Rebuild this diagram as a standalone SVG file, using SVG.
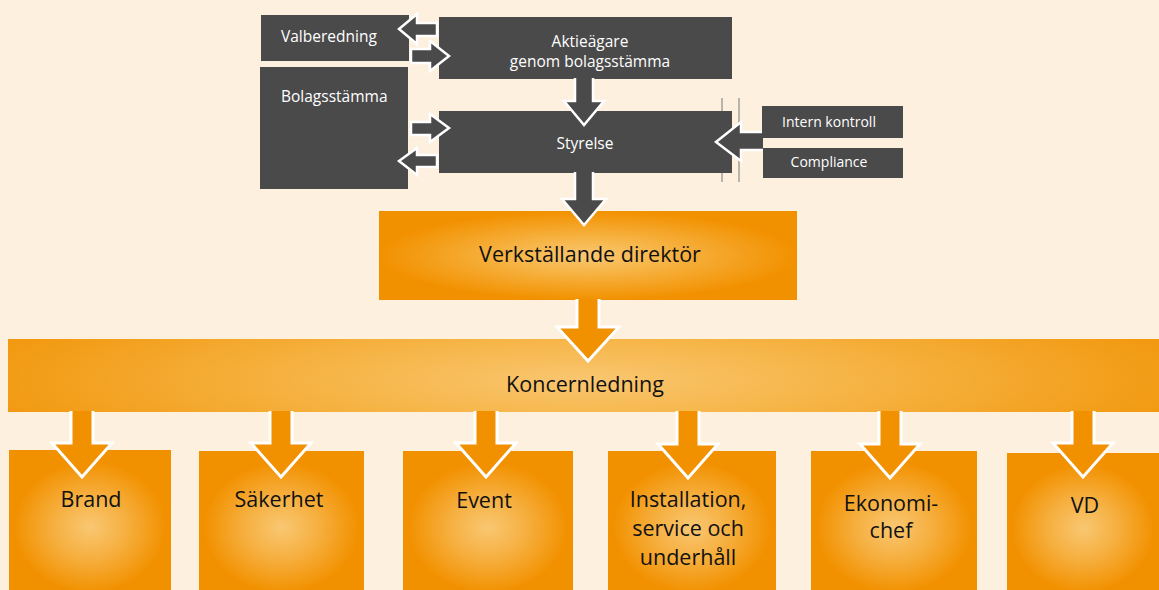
<svg xmlns="http://www.w3.org/2000/svg" width="1159" height="590" viewBox="0 0 1159 590">
<style>
.bg{fill:#fdf0df}
.dk{fill:#4a4a4a}
.wt{font-family:"Open Sans","Liberation Sans",sans-serif;font-size:15.5px;fill:#ffffff}
.wts{font-family:"Open Sans","Liberation Sans",sans-serif;font-size:14px;fill:#ffffff}
.bt{font-family:"Open Sans","Liberation Sans",sans-serif;font-size:21.5px;fill:#111111}
.da{fill:#4a4a4a;stroke:#ffffff;stroke-width:2.5;stroke-linejoin:miter}
.oa{fill:#f29100;stroke:#ffffff;stroke-width:3;stroke-linejoin:miter}
.mk{stroke:#8a8a8a;stroke-width:1.2}
</style>
<defs>
<radialGradient id="gOr" cx="0.5" cy="0.5" r="0.5">
<stop offset="0" stop-color="#f9c772"/>
<stop offset="0.35" stop-color="#f7b649"/>
<stop offset="1" stop-color="#f29100"/>
</radialGradient>
<radialGradient id="gBox" cx="0.5" cy="0.55" r="0.55">
<stop offset="0" stop-color="#f9c772"/>
<stop offset="0.4" stop-color="#f6b041"/>
<stop offset="0.85" stop-color="#f29100"/>
<stop offset="1" stop-color="#f29100"/>
</radialGradient>
<radialGradient id="gBar" gradientUnits="userSpaceOnUse" cx="585" cy="380" r="600" gradientTransform="translate(0,380) scale(1,0.16) translate(0,-380)">
<stop offset="0" stop-color="#f9c670"/>
<stop offset="0.45" stop-color="#f6b445"/>
<stop offset="1" stop-color="#f29a12"/>
</radialGradient>
</defs>
<rect class="bg" x="0" y="0" width="1159" height="590"/>
<g id="marks">
<line class="mk" x1="722" y1="98" x2="722" y2="182"/>
<line class="mk" x1="739" y1="98" x2="739" y2="182"/>
</g>
<g id="valberedning"><rect class="dk" x="261" y="15" width="148" height="46"/><text class="wt" x="281" y="42">Valberedning</text></g>
<g id="bolagsstamma"><rect class="dk" x="260" y="67" width="148" height="122"/><text class="wt" x="281" y="102">Bolagsstämma</text></g>
<g id="aktieagare"><rect class="dk" x="439" y="17" width="293" height="62"/><text class="wt" text-anchor="middle" x="590" y="47">Aktieägare</text><text class="wt" text-anchor="middle" x="590" y="67">genom bolagsstämma</text></g>
<g id="styrelse"><rect class="dk" x="439" y="111" width="293" height="62"/><text class="wt" text-anchor="middle" x="585" y="149">Styrelse</text></g>
<g id="vd-main"><rect x="379" y="211" width="418" height="89" fill="url(#gOr)"/><text class="bt" text-anchor="middle" x="590" y="262">Verkställande direktör</text></g>
<g id="koncernledning"><rect x="8" y="339" width="1151" height="73" fill="url(#gBar)"/><text class="bt" text-anchor="middle" x="585" y="392">Koncernledning</text></g>
<g id="brand"><rect x="9" y="450" width="162" height="140" fill="url(#gBox)"/><text class="bt" text-anchor="middle" x="91" y="507">Brand</text></g>
<g id="sakerhet"><rect x="199" y="451" width="165" height="139" fill="url(#gBox)"/><text class="bt" text-anchor="middle" x="279" y="507">Säkerhet</text></g>
<g id="event"><rect x="403" y="451" width="170" height="139" fill="url(#gBox)"/><text class="bt" text-anchor="middle" x="484" y="508">Event</text></g>
<g id="installation"><rect x="608" y="451" width="168" height="139" fill="url(#gBox)"/><text class="bt" text-anchor="middle" x="688" y="507">Installation,</text><text class="bt" text-anchor="middle" x="688" y="536">service och</text><text class="bt" text-anchor="middle" x="688" y="565">underhåll</text></g>
<g id="ekonomichef"><rect x="811" y="451" width="166" height="139" fill="url(#gBox)"/><text class="bt" text-anchor="middle" x="891" y="511">Ekonomi-</text><text class="bt" text-anchor="middle" x="891" y="538">chef</text></g>
<g id="vd"><rect x="1007" y="453" width="152" height="137" fill="url(#gBox)"/><text class="bt" text-anchor="middle" x="1085" y="513">VD</text></g>
<g id="connectors">
<polygon class="da" points="437,23 417,23 417,14 399,29 417,44 417,36 437,36"/>
<polygon class="da" points="411,49 430,49 430,41 449,56 430,71 430,63 411,63"/>
<polygon class="da" points="411,122 430,122 430,114 449,128 430,142 430,135 411,135"/>
<polygon class="da" points="437,155 417,155 417,148 399,161 417,175 417,167 437,167"/>
<path class="da" d="M575,78 L575,101 L564,101 L584,125 L604,101 L593,101 L593,78"/>
<path class="da" d="M575,172 L575,199 L562,199 L584,225 L606,199 L593,199 L593,172"/>
<path class="da" d="M763,132 L741,132 L741,122 L716,142 L741,161 L741,150 L763,150"/>
<path class="oa" d="M577,299 L577,327 L557,327 L588,361 L619,327 L599,327 L599,299"/>
<path class="oa" d="M71,411 L71,443 L52,443 L82,477 L112,443 L93,443 L93,411"/>
<path class="oa" d="M270,411 L270,443 L251,443 L281,477 L311,443 L292,443 L292,411"/>
<path class="oa" d="M475,411 L475,443 L456,443 L486,477 L516,443 L497,443 L497,411"/>
<path class="oa" d="M677,411 L677,444 L658,444 L688,478 L718,444 L699,444 L699,411"/>
<path class="oa" d="M879,411 L879,444 L860,444 L890,478 L920,444 L901,444 L901,411"/>
<path class="oa" d="M1072,411 L1072,443 L1053,443 L1083,477 L1113,443 L1094,443 L1094,411"/>
</g>
<g id="intern-kontroll"><rect class="dk" x="762" y="106" width="141" height="32"/><text class="wts" text-anchor="middle" x="829" y="127">Intern kontroll</text></g>
<g id="compliance"><rect class="dk" x="763" y="148" width="140" height="30"/><text class="wts" text-anchor="middle" x="829" y="167">Compliance</text></g>
</svg>
